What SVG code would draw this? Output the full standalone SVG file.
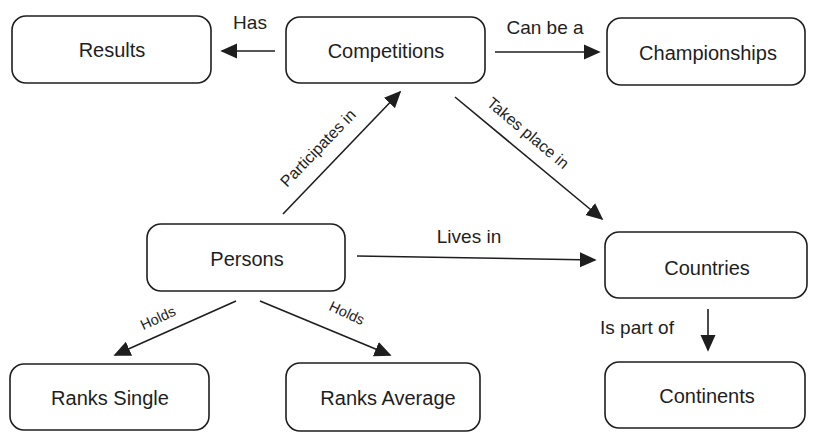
<svg xmlns="http://www.w3.org/2000/svg" width="815" height="441" viewBox="0 0 815 441">
<defs>
<style>
.box{fill:#fff;stroke:#1e1e1e;stroke-width:1.6}
.t{font-family:"Liberation Sans",Arial,sans-serif;font-size:20px;fill:#1e1e1e;text-anchor:middle;dominant-baseline:central}
.l{font-family:"Liberation Sans",Arial,sans-serif;font-size:19px;fill:#1e1e1e;text-anchor:middle;dominant-baseline:central}
.r{font-size:16px}
.s{font-size:14.5px}
.c{fill:none;stroke:#1e1e1e;stroke-width:1.6}
</style>
<marker id="ah" viewBox="0 0 10 10" refX="9" refY="5" markerWidth="17" markerHeight="17" markerUnits="userSpaceOnUse" orient="auto">
<path d="M0,0.5 L10,5 L0,9.5 z" fill="#1e1e1e"/>
</marker>
</defs>
<rect width="815" height="441" fill="#fff"/>
<g id="connectors">
<line class="c" x1="275" y1="51" x2="222" y2="51" marker-end="url(#ah)"/>
<text class="l" x="250" y="22">Has</text>
<line class="c" x1="495" y1="52" x2="599" y2="52" marker-end="url(#ah)"/>
<text class="l" x="545" y="27">Can be a</text>
<line class="c" x1="283" y1="214" x2="400" y2="92" marker-end="url(#ah)"/>
<text class="l r" transform="translate(318,148) rotate(-46)">Participates in</text>
<line class="c" x1="455" y1="97" x2="602" y2="219" marker-end="url(#ah)"/>
<text class="l r" transform="translate(528,133) rotate(40)">Takes place in</text>
<line class="c" x1="357" y1="256" x2="595" y2="260" marker-end="url(#ah)"/>
<text class="l" x="469" y="236">Lives in</text>
<line class="c" x1="708" y1="309" x2="708" y2="350" marker-end="url(#ah)"/>
<text class="l" x="637" y="327">Is part of</text>
<line class="c" x1="236" y1="301" x2="115" y2="355" marker-end="url(#ah)"/>
<text class="l s" transform="translate(158,318) rotate(-25)">Holds</text>
<line class="c" x1="260" y1="301" x2="390" y2="355" marker-end="url(#ah)"/>
<text class="l s" transform="translate(347,313) rotate(25)">Holds</text>
</g>
<g id="results"><rect class="box" x="12" y="16" width="199" height="67" rx="14"/><text class="t" x="112" y="50">Results</text></g>
<g id="competitions"><rect class="box" x="286" y="17" width="199" height="66" rx="14"/><text class="t" x="386" y="51">Competitions</text></g>
<g id="championships"><rect class="box" x="607" y="18" width="198" height="67" rx="14"/><text class="t" x="708" y="53">Championships</text></g>
<g id="persons"><rect class="box" x="147" y="224" width="198" height="67" rx="14"/><text class="t" x="247" y="259">Persons</text></g>
<g id="countries"><rect class="box" x="605" y="232" width="202" height="66" rx="14"/><text class="t" x="707" y="268">Countries</text></g>
<g id="continents"><rect class="box" x="605" y="362" width="200" height="66" rx="14"/><text class="t" x="707" y="396">Continents</text></g>
<g id="ranks-single"><rect class="box" x="10" y="364" width="199" height="66" rx="14"/><text class="t" x="110" y="398">Ranks Single</text></g>
<g id="ranks-average"><rect class="box" x="286" y="363" width="194" height="68" rx="14"/><text class="t" x="388" y="398">Ranks Average</text></g>
</svg>
